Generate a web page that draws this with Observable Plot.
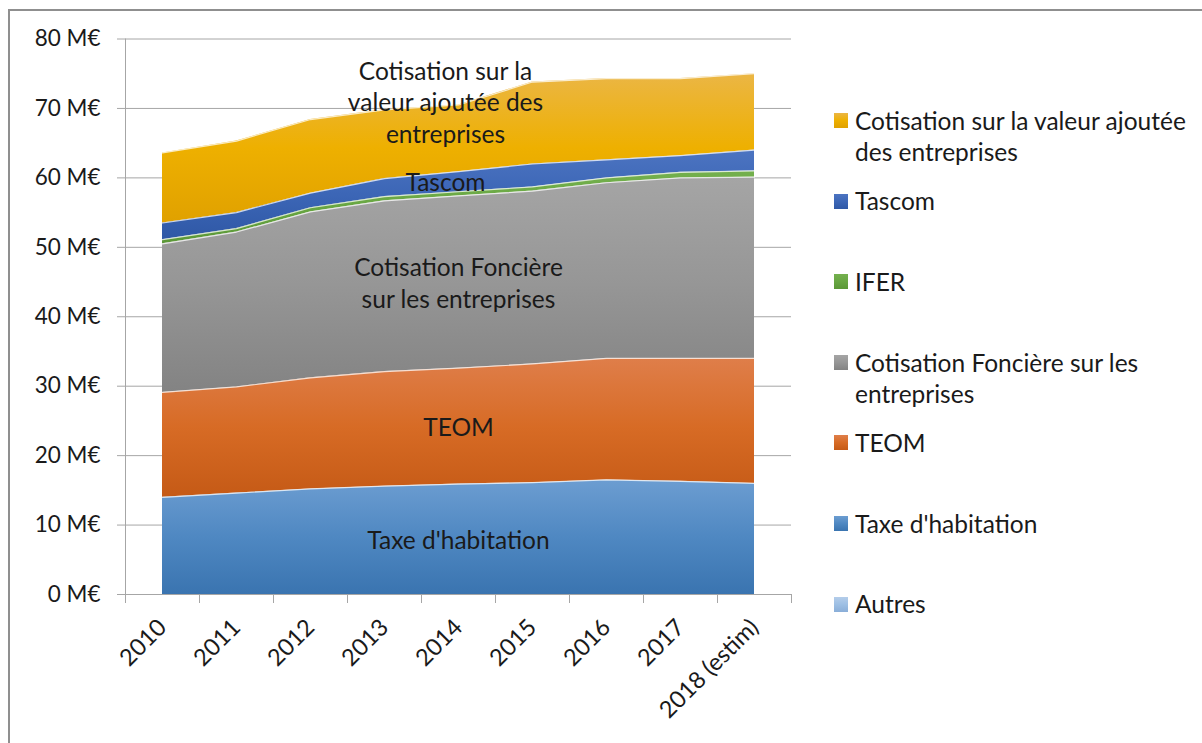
<!DOCTYPE html>
<html>
<head>
<meta charset="utf-8">
<script src="https://cdn.jsdelivr.net/npm/d3@7"></script>
<script src="https://cdn.jsdelivr.net/npm/@observablehq/plot@0.6"></script>
<style>
  html, body { margin: 0; padding: 0; background: #fff; }
  #wrap { position: relative; width: 1202px; height: 743px; overflow: hidden; font-family: Lato, "Noto Sans", sans-serif; color: #1a1a1a; }
  #frame { position: absolute; left: 8px; top: 9px; width: 1400px; height: 900px; border-left: 2px solid #8f8f8f; border-top: 2px solid #8f8f8f; }
  #chart { position: absolute; left: 0; top: 0; }
  .lg { position: absolute; left: 855px; font-size: 24.5px; line-height: 31.5px; white-space: nowrap; }
  .sw { position: absolute; left: 834px; width: 14px; height: 15px; }
</style>
</head>
<body>
<div id="wrap">
  <div id="frame"></div>
  <div id="chart"></div>
  <div id="legend"></div>
</div>
<script>
// ---- data ----
const years = ["2010", "2011", "2012", "2013", "2014", "2015", "2016", "2017", "2018 (estim)"];
const seriesNames = [
  "Autres",
  "Taxe d'habitation",
  "TEOM",
  "Cotisation Foncière sur les entreprises",
  "IFER",
  "Tascom",
  "Cotisation sur la valeur ajoutée des entreprises"
];
const autres          = [0, 0, 0, 0, 0, 0, 0, 0, 0];
const taxeHabitation  = [14.0, 14.6, 15.2, 15.6, 15.9, 16.1, 16.5, 16.3, 16.0];
const teom            = [15.1, 15.3, 16.0, 16.5, 16.7, 17.1, 17.5, 17.7, 18.0];
const cfe             = [21.4, 22.3, 23.9, 24.6, 24.8, 24.9, 25.3, 26.0, 26.1];
const ifer            = [0.6, 0.5, 0.6, 0.6, 0.6, 0.6, 0.7, 0.8, 0.9];
const tascom          = [2.4, 2.3, 2.1, 2.6, 2.9, 3.3, 2.6, 2.4, 3.0];
const cvae            = [10.1, 10.3, 10.6, 9.9, 9.6, 11.8, 11.7, 11.1, 11.0];
const yTicks = [0, 10, 20, 30, 40, 50, 60, 70, 80];

// in-chart labels
const areaLabels = {
  "Taxe d'habitation": "Taxe d'habitation",
  "TEOM": "TEOM",
  "Cotisation Foncière sur les entreprises": "Cotisation Foncière\nsur les entreprises"
};
const tascomLabel = "Tascom";
const cvaeLabel = "Cotisation sur la\nvaleur ajoutée des\nentreprises";

// legend (top to bottom) with wrapped text
const legendItems = [
  ["Cotisation sur la valeur ajoutée des entreprises", "Cotisation sur la valeur ajoutée<br>des entreprises"],
  ["Tascom", "Tascom"],
  ["IFER", "IFER"],
  ["Cotisation Foncière sur les entreprises", "Cotisation Foncière sur les<br>entreprises"],
  ["TEOM", "TEOM"],
  ["Taxe d'habitation", "Taxe d'habitation"],
  ["Autres", "Autres"]
];

// gradient colours (top, mid, bottom) per series
const gradColors = [
  ["#b4cdea", "#9dbfe4", "#8aaed8"],
  ["#6c9dd1", "#4f88c2", "#3a74b0"],
  ["#df7e4a", "#d76b25", "#c55a16"],
  ["#a5a5a5", "#969696", "#838383"],
  ["#74b04e", "#68a642", "#5b9737"],
  ["#4c74c1", "#3c66b6", "#2f58a6"],
  ["#ebb645", "#eeb000", "#e0a100"]
];

const values = [autres, taxeHabitation, teom, cfe, ifer, tascom, cvae];
const rows = seriesNames.flatMap((s, k) => values[k].map((v, i) => ({i, year: years[i], series: s, value: v})));
const labelRows = rows.filter(d => d.i === 4);
const stackOpts = {x: "i", y: "value", z: "series", order: seriesNames};

const chart = Plot.plot({
  width: 1202,
  height: 743,
  marginLeft: 125,
  marginRight: 411,
  marginTop: 38.5,
  marginBottom: 149,
  x: {type: "linear", domain: [-0.5, years.length - 0.5]},
  y: {domain: [0, 80]},
  color: {domain: seriesNames, range: seriesNames.map((_, k) => `url(#grad${k})`)},
  style: {fontFamily: "Lato, 'Noto Sans', sans-serif", fontSize: "24px", color: "#1a1a1a", background: "transparent", overflow: "visible"},
  marks: [
    Plot.gridY(yTicks, {stroke: "#a6a6a6", strokeOpacity: 1, strokeWidth: 1}),
    Plot.areaY(rows, {...stackOpts, fill: "series"}),
    Plot.lineY(rows, Plot.stackY2({...stackOpts, stroke: "#ffffff", strokeOpacity: 0.75, strokeWidth: 1.2})),
    Plot.ruleX([-0.5], {stroke: "#a6a6a6", strokeWidth: 1}),
    Plot.ruleY([0], {stroke: "#a6a6a6", strokeWidth: 1}),
    Plot.axisY(yTicks, {tickSize: 8, tickPadding: 17, tickFormat: d => `${d} M€`, stroke: "#a6a6a6", fill: "#1a1a1a", fontSize: 22.5, label: null}),
    Plot.axisX(d3.range(-0.5, years.length, 1), {tickSize: 9, tickFormat: () => "", stroke: "#a6a6a6", label: null}),
    Plot.axisX(d3.range(years.length), {tickSize: 0, tickPadding: 29, tickRotate: -45, tickFormat: i => years[i], fill: "#1a1a1a", fontSize: 23.5, label: null}),
    Plot.text(labelRows, Plot.stackY({...stackOpts,
      text: d => areaLabels[d.series] || "", fontSize: 24.5, lineHeight: 1.29, fill: "#1a1a1a"})),
    Plot.text(labelRows, Plot.stackY({...stackOpts,
      text: d => d.series === "Tascom" ? tascomLabel : "", fontSize: 24.5, fill: "#1a1a1a", dy: 1, dx: -13})),
    Plot.text(labelRows, Plot.stackY({...stackOpts,
      text: d => d.series === seriesNames[6] ? cvaeLabel : "", fontSize: 24.5, lineHeight: 1.29, fill: "#1a1a1a", dy: -37, dx: -13}))
  ]
});

// gradient definitions
const defs = gradColors.map((c, k) =>
  `<linearGradient id="grad${k}" x1="0" y1="0" x2="0" y2="1">` +
  `<stop offset="0" stop-color="${c[0]}"/><stop offset="0.5" stop-color="${c[1]}"/><stop offset="1" stop-color="${c[2]}"/></linearGradient>`
).join("");
chart.insertAdjacentHTML("afterbegin", `<defs>${defs}</defs>`);
document.getElementById("chart").appendChild(chart);

// legend
const legend = document.getElementById("legend");
legendItems.forEach(([name, html], j) => {
  const k = seriesNames.indexOf(name);
  const c = gradColors[k];
  const cy = 120.5 + 80.6 * j;
  const sw = document.createElement("div");
  sw.className = "sw";
  sw.style.top = (cy - 7.5) + "px";
  sw.style.background = `linear-gradient(${c[0]}, ${c[1]}, ${c[2]})`;
  legend.appendChild(sw);
  const t = document.createElement("div");
  t.className = "lg";
  t.style.top = (cy - 15.75) + "px";
  t.innerHTML = html;
  legend.appendChild(t);
});
</script>
</body>
</html>
